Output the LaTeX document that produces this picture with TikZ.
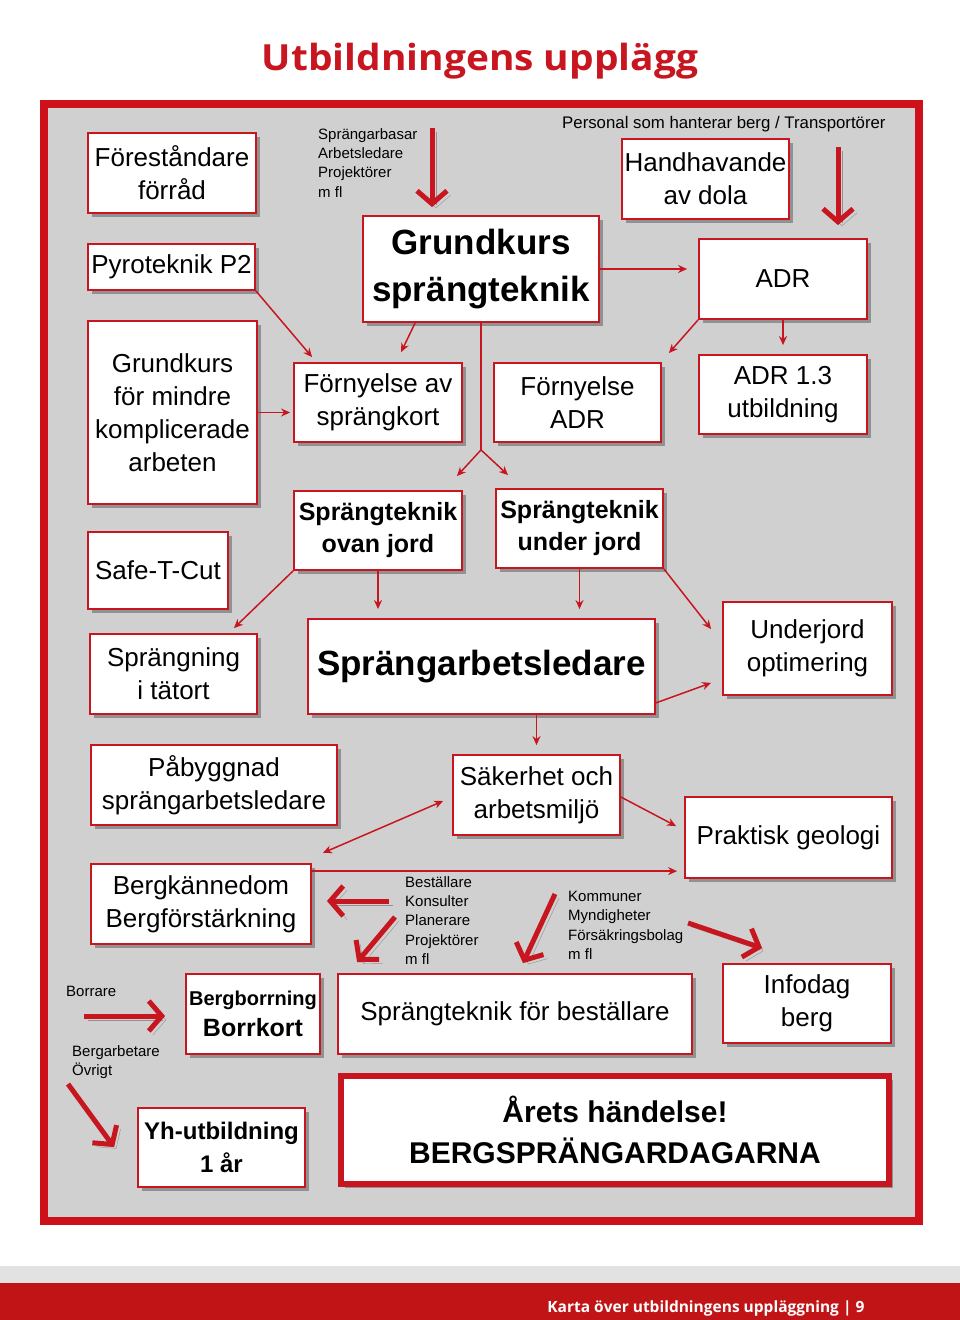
\documentclass[tikz,border=0pt]{standalone}
\usepackage{fontspec}
\setmainfont{Liberation Sans}
\newfontfamily\headfont{Open Sans}
\usetikzlibrary{arrows.meta,shadows}

\definecolor{boxred}{RGB}{200,22,32}
\definecolor{framered}{RGB}{205,16,26}
\definecolor{bggray}{RGB}{208,208,208}
\definecolor{footred}{RGB}{192,20,22}
\definecolor{footgray}{RGB}{226,226,226}

\begin{document}
\begin{tikzpicture}[x=1pt, y=-1pt,
  box/.style={draw=boxred, line width=1.8pt, fill=white, align=center, inner sep=0pt,
    drop shadow={shadow xshift=4pt, shadow yshift=-4pt, fill=black, opacity=.3}},
  boxtxt/.style={font=\fontsize{26}{33}\selectfont},
  boldtxt/.style={font=\fontsize{25}{32}\selectfont\bfseries},
  bigtxt/.style={font=\fontsize{35}{47}\selectfont\bfseries},
  smalltxt/.style={font=\fontsize{15}{19.4}\selectfont, align=left, inner sep=0pt},
  every edge/.style={draw=boxred, line width=1.5pt, -{Stealth[length=9pt,width=8pt]}},
  fatarrow/.style={draw=boxred, line width=5pt, -{Straight Barb[length=13pt,width=30pt]},
    preaction={draw=black, opacity=.3, transform canvas={shift={(4pt,-4pt)}}}}]

\useasboundingbox (0,0) rectangle (960,1320);
\fill[white] (0,0) rectangle (960,1320);
\draw[framered, line width=8pt, fill=bggray] (43.5,103.5) rectangle (919,1221);
\fill[footgray] (0,1266) rectangle (960,1283);
\fill[footred] (0,1283) rectangle (960,1320);

\node[anchor=base, text=boxred, font=\headfont\bfseries\fontsize{36}{42}\selectfont] (title) at (480,70) {\scalebox{1.08}[1]{Utbildningens upplägg}};
\node[anchor=base east, text=white, font=\headfont\bfseries\fontsize{15.5}{18}\selectfont] (foot) at (868,1312) {Karta över utbildningens uppläggning | 9};

\node[box, boxtxt, minimum width=168, minimum height=80] (fo) at (172,173) {Föreståndare\\förråd};
\node[box, boxtxt, minimum width=167, minimum height=46] (p2) at (171.5,267) {Pyroteknik P2};
\node[box, boxtxt, minimum width=169, minimum height=183] (gm) at (172.5,412.5) {Grundkurs\\för mindre\\komplicerade\\arbeten};
\node[box, bigtxt, minimum width=236, minimum height=106] (gs) at (481,269) {Grundkurs\\sprängteknik};
\node[box, boxtxt, minimum width=168, minimum height=79] (fs) at (378,402.5) {Förnyelse av\\sprängkort};
\node[box, boxtxt, minimum width=167, minimum height=80] (hd) at (705.5,179) {Handhavande\\av dola};
\node[box, boxtxt, minimum width=168, minimum height=80] (adr) at (783,279) {ADR};
\node[box, boxtxt, minimum width=167, minimum height=79] (fa) at (577.5,402.5) {Förnyelse\\ADR};
\node[box, boxtxt, minimum width=168, minimum height=79] (a13) at (783,394.5) {ADR 1.3\\utbildning};
\node[box, boxtxt, minimum width=140, minimum height=77] (stc) at (158,570.5) {Safe-T-Cut};
\node[box, boldtxt, minimum width=168, minimum height=79] (oj) at (378,530.5) {Sprängteknik\\ovan jord};
\node[box, boldtxt, minimum width=167, minimum height=79] (uj) at (579.5,528.5) {Sprängteknik\\under jord};
\node[box, boxtxt, minimum width=167, minimum height=80] (st) at (173.5,674) {Sprängning\\i tätort};
\node[box, bigtxt, minimum width=347, minimum height=95] (sa) at (481.5,666.5) {Sprängarbetsledare};
\node[box, boxtxt, minimum width=169, minimum height=93] (uo) at (807.5,648.5) {Underjord\\optimering};
\node[box, boxtxt, minimum width=246, minimum height=80] (pb) at (214,785) {Påbyggnad\\sprängarbetsledare};
\node[box, boxtxt, minimum width=167, minimum height=80] (sk) at (536.5,795) {Säkerhet och\\arbetsmiljö};
\node[box, boxtxt, minimum width=207, minimum height=81] (pg) at (788.5,837.5) {Praktisk geologi};
\node[box, boxtxt, minimum width=220, minimum height=80] (bk) at (201,904) {Bergkännedom\\Bergförstärkning};
\node[box, font=\fontsize{25}{31}\selectfont\bfseries, minimum width=134, minimum height=80] (bb) at (253,1014) {{\fontsize{20}{24}\selectfont Bergborrning}\\Borrkort};
\node[box, boxtxt, minimum width=354, minimum height=80] (sb) at (515,1014) {Sprängteknik för beställare};
\node[box, boxtxt, minimum width=168, minimum height=79] (ib) at (807,1003.5) {Infodag\\berg};
\node[box, font=\fontsize{24}{33}\selectfont\bfseries, minimum width=167, minimum height=79] (yh) at (221.5,1147.5) {Yh-utbildning\\1 år};
\node[box, line width=6pt, font=\fontsize{30}{41}\selectfont\bfseries, minimum width=548, minimum height=108] (ah) at (615,1130) {Årets händelse!\\BERGSPRÄNGARDAGARNA};

\node[smalltxt, anchor=north west] (yrk1) at (318,128) {Sprängarbasar\\Arbetsledare\\Projektörer\\m fl};
\node[smalltxt, anchor=base west, font=\fontsize{16.8}{20}\selectfont] (yrk2) at (562,128) {Personal som hanterar berg / Transportörer};
\node[smalltxt, anchor=north west] (yrk3) at (405,876) {Beställare\\Konsulter\\Planerare\\Projektörer\\m fl};
\node[smalltxt, anchor=north west] (yrk4) at (568,891) {Kommuner\\Myndigheter\\Försäkringsbolag\\m fl};
\node[smalltxt, anchor=north west] (yrk5) at (66,986) {Borrare};
\node[smalltxt, anchor=north west] (yrk6) at (72,1045) {Bergarbetare\\Övrigt};

\coordinate (split) at ([yshift=-127pt]gs.south);
\coordinate (bkr) at ([yshift=-8pt]bk.north east);

\path (p2.south east) edge ([xshift=19pt,yshift=5pt]fs.north west);
\path (gm.east) edge[shorten >=3pt] (gm.east -| fs.west);
\path ([xshift=53pt]gs.south west) edge ([xshift=108pt,yshift=10pt]fs.north west);
\path (gs.east) edge[shorten >=11pt] (gs.east -| adr.west);
\path (adr.south west) edge ([xshift=7pt,yshift=9pt]fa.north east);
\path (adr.south) edge[shorten >=9pt] (a13.north);
\path (gs.south) edge[-] (split);
\path (split) edge ([xshift=-6pt,yshift=14pt]oj.north east);
\path (split) edge ([xshift=13pt,yshift=13pt]uj.north west);
\path (oj.south west) edge ([xshift=-24pt,yshift=5pt]st.north east);
\path (oj.south) edge[shorten >=9pt] (oj.south |- sa.north);
\path (uj.south) edge[shorten >=9pt] (uj.south |- sa.north);
\path (uj.south east) edge ([xshift=-11pt,yshift=-28pt]uo.north west);
\path ([yshift=12pt]sa.south east) edge ([xshift=-11pt,yshift=13pt]uo.south west);
\path (sa.south -| sk.north) edge[shorten >=9pt] (sk.north);
\path ([yshift=-2pt]sk.east) edge ([xshift=-8pt,yshift=-30pt]pg.north west);
\path ([xshift=-15pt,yshift=-27pt]pb.south east) edge[{Stealth[length=9pt,width=8pt]}-{Stealth[length=9pt,width=8pt]}] ([xshift=-9pt,yshift=-6pt]sk.west);
\path (bkr) edge[shorten >=7pt] (bkr -| pg.west);

\coordinate (ua) at (432,128);
\coordinate (ub) at (838,147);
\coordinate (uc) at (389,901);
\coordinate (ud) at (395,917);
\coordinate (ue) at (555,894);
\coordinate (uf) at (688,923);
\coordinate (ug) at (84,1016);
\coordinate (uh) at (68,1084);
\draw[fatarrow, shorten >=8pt] (ua) -- (ua |- gs.north);
\draw[fatarrow, shorten >=13pt] (ub) -- (ub |- adr.north);
\draw[fatarrow, shorten >=15pt] (uc) -- (uc -| bk.east);
\draw[fatarrow] (ud) -- ([xshift=20pt,yshift=11pt]sb.north west);
\draw[fatarrow] (ue) -- ([xshift=8pt,yshift=10pt]sb.north);
\draw[fatarrow] (uf) -- ([xshift=40pt,yshift=15pt]ib.north west);
\draw[fatarrow, shorten >=20pt] (ug) -- (ug -| bb.west);
\draw[fatarrow] (uh) -- ([xshift=-23pt,yshift=-40pt]yh.north west);
\end{tikzpicture}
\end{document}
